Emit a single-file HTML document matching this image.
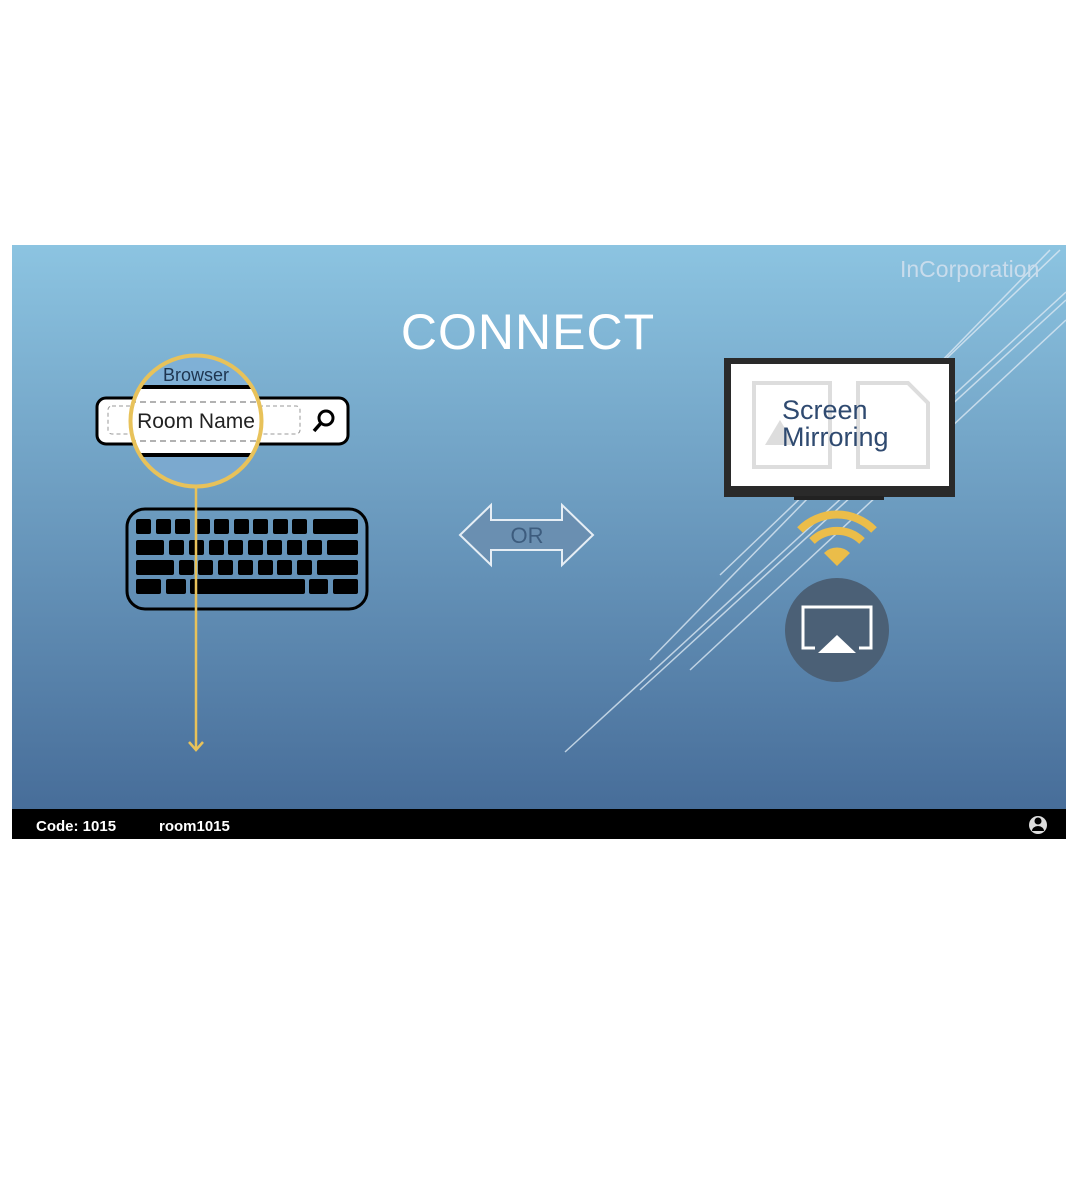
<!DOCTYPE html>
<html><head><style>body{margin:0;background:#fff}</style></head><body>
<svg width="1078" height="1200" xmlns="http://www.w3.org/2000/svg" style="display:block;font-family:'Liberation Sans',sans-serif">
<defs><linearGradient id="g" x1="0" y1="0" x2="0" y2="1"><stop offset="0" stop-color="#8cc4e1"/><stop offset="1" stop-color="#476d99"/></linearGradient></defs>
<rect x="12" y="245" width="1054" height="565" fill="url(#g)"/>
<g stroke="#dbe8f3" stroke-width="1.5" fill="none" opacity="0.8">
<line x1="565" y1="752" x2="1066" y2="292"/>
<line x1="640" y1="690" x2="1066" y2="300"/>
<line x1="690" y1="670" x2="1066" y2="320"/>
<line x1="720" y1="575" x2="1060" y2="250"/>
<line x1="650" y1="660" x2="1050" y2="250"/>
</g>
<rect x="12" y="809" width="1054" height="30" fill="#000"/>
<text x="36" y="831" fill="#fff" font-size="15" font-weight="bold">Code: 1015</text>
<text x="159" y="831" fill="#fff" font-size="15" font-weight="bold">room1015</text>
<circle cx="1038" cy="825" r="9" fill="#ddd"/><circle cx="1038" cy="821" r="3.5" fill="#000"/><path d="M1032 831a6 5 0 0 1 12 0z" fill="#000"/>
<text x="900" y="277" fill="#c9dcec" font-size="23">InCorporation</text>
<text x="528" y="349" fill="#fff" font-size="50" text-anchor="middle" letter-spacing="1">CONNECT</text>
<!-- search -->
<rect x="97" y="398" width="251" height="46" rx="9" fill="#fff" stroke="#000" stroke-width="3"/>
<rect x="108" y="406" width="192" height="28" rx="4" fill="none" stroke="#999" stroke-dasharray="4 3"/>
<circle cx="326" cy="418" r="7" fill="none" stroke="#000" stroke-width="3"/><line x1="321" y1="423" x2="314" y2="431" stroke="#000" stroke-width="3.5"/>
<circle cx="196" cy="421" r="66" fill="#fff" stroke="#e8c25a" stroke-width="3"/>
<path d="M130 355 h132 v31 h-132z" fill="url(#g)" clip-path="circle(66px at 196px 421px)" opacity="0"/>
<clipPath id="c"><circle cx="196" cy="421" r="64"/></clipPath>
<g clip-path="url(#c)"><rect x="120" y="340" width="160" height="45" fill="#7fb0d6"/><rect x="120" y="385" width="160" height="4" fill="#000"/><rect x="120" y="453" width="160" height="4" fill="#000"/><rect x="120" y="457" width="160" height="40" fill="#7ba9cf"/>
<line x1="130" y1="402" x2="262" y2="402" stroke="#999" stroke-width="1.5" stroke-dasharray="6 4"/><line x1="130" y1="441" x2="262" y2="441" stroke="#999" stroke-width="1.5" stroke-dasharray="6 4"/></g>
<circle cx="196" cy="421" r="65" fill="none" stroke="#e8c25a" stroke-width="3"/>
<text x="196" y="381" font-size="18" text-anchor="middle" fill="#1e3550">Browser</text>
<text x="196" y="428" font-size="21" text-anchor="middle" fill="#222">Room Name</text>
<!-- keyboard -->
<rect x="127" y="509" width="240" height="100" rx="18" fill="none" stroke="#000" stroke-width="3"/>
<g fill="#000">
<rect x="136" y="519" width="15" height="15" rx="2"/><rect x="156" y="519" width="15" height="15" rx="2"/><rect x="175" y="519" width="15" height="15" rx="2"/><rect x="195" y="519" width="15" height="15" rx="2"/><rect x="214" y="519" width="15" height="15" rx="2"/><rect x="234" y="519" width="15" height="15" rx="2"/><rect x="253" y="519" width="15" height="15" rx="2"/><rect x="273" y="519" width="15" height="15" rx="2"/><rect x="292" y="519" width="15" height="15" rx="2"/><rect x="313" y="519" width="45" height="15" rx="2"/>
<rect x="136" y="540" width="28" height="15" rx="2"/><rect x="169" y="540" width="15" height="15" rx="2"/><rect x="189" y="540" width="15" height="15" rx="2"/><rect x="209" y="540" width="15" height="15" rx="2"/><rect x="228" y="540" width="15" height="15" rx="2"/><rect x="248" y="540" width="15" height="15" rx="2"/><rect x="267" y="540" width="15" height="15" rx="2"/><rect x="287" y="540" width="15" height="15" rx="2"/><rect x="307" y="540" width="15" height="15" rx="2"/><rect x="327" y="540" width="31" height="15" rx="2"/>
<rect x="136" y="560" width="38" height="15" rx="2"/><rect x="179" y="560" width="15" height="15" rx="2"/><rect x="198" y="560" width="15" height="15" rx="2"/><rect x="218" y="560" width="15" height="15" rx="2"/><rect x="238" y="560" width="15" height="15" rx="2"/><rect x="258" y="560" width="15" height="15" rx="2"/><rect x="277" y="560" width="15" height="15" rx="2"/><rect x="297" y="560" width="15" height="15" rx="2"/><rect x="317" y="560" width="41" height="15" rx="2"/>
<rect x="136" y="579" width="25" height="15" rx="2"/><rect x="166" y="579" width="20" height="15" rx="2"/><rect x="190" y="579" width="115" height="15" rx="2"/><rect x="309" y="579" width="19" height="15" rx="2"/><rect x="333" y="579" width="25" height="15" rx="2"/>
</g>
<line x1="196" y1="487" x2="196" y2="750" stroke="#e8c25a" stroke-width="2.5"/>
<path d="M189 742 L196 750 L203 742" fill="none" stroke="#e8c25a" stroke-width="2.5"/>
<!-- OR -->
<path d="M460 535 L491 505 L491 520 L562 520 L562 505 L593 535 L562 565 L562 550 L491 550 L491 565 Z" fill="#6a8fb1" stroke="#e6eef5" stroke-width="2"/>
<text x="527" y="543" font-size="22" text-anchor="middle" fill="#3d5c7e">OR</text>
<!-- TV -->
<rect x="724" y="358" width="231" height="139" fill="#2a2a2a"/>
<rect x="731" y="364" width="218" height="122" fill="#fff"/>
<rect x="794" y="496" width="90" height="4" fill="#222"/>
<rect x="754" y="383" width="76" height="84" fill="none" stroke="#ddd" stroke-width="4"/>
<path d="M765 445 L780 420 L795 445Z" fill="#ddd"/>
<path d="M858 383 h50 l20 20 v64 h-70z" fill="none" stroke="#ddd" stroke-width="4"/>
<text x="782" y="419" font-size="27" fill="#2f4a70">Screen</text>
<text x="782" y="446" font-size="27" fill="#2f4a70">Mirroring</text>
<!-- wifi -->
<g fill="none" stroke="#ebbd49" stroke-width="8">
<path d="M800 530 A52 52 0 0 1 874 530"/><path d="M812 541 A36 36 0 0 1 862 541"/></g>
<path d="M824 553 A18 18 0 0 1 850 553 L837 566Z" fill="#ebbd49"/>
<circle cx="837" cy="630" r="52" fill="#4b6076"/>
<path d="M815 648 h-12 v-41 h68 v41 h-12" fill="none" stroke="#fff" stroke-width="3"/>
<path d="M818 653 L837 635 L856 653Z" fill="#fff"/>
</svg>
</body></html>
